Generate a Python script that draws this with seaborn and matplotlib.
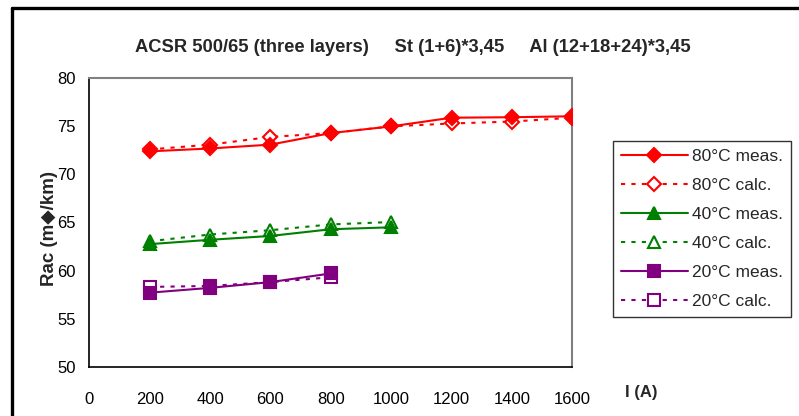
import matplotlib
matplotlib.use("Agg")
import matplotlib.pyplot as plt
from matplotlib.lines import Line2D
import seaborn as sns
import pandas as pd

# Current (A)
current_80 = [200, 400, 600, 800, 1000, 1200, 1400, 1600]
current_40 = [200, 400, 600, 800, 1000]
current_20 = [200, 400, 600, 800]

# AC resistance (mOhm/km)
rac_80_meas = [72.4, 72.7, 73.1, 74.3, 75.0, 75.9, 75.95, 76.05]
rac_80_calc = [72.6, 73.1, 73.9, 74.3, 75.0, 75.3, 75.5, 75.9]
rac_40_meas = [62.75, 63.2, 63.6, 64.3, 64.5]
rac_40_calc = [63.05, 63.75, 64.2, 64.8, 65.05]
rac_20_meas = [57.7, 58.2, 58.8, 59.7]
rac_20_calc = [58.3, 58.4, 58.8, 59.3]

labels = ["80°C meas.", "80°C calc.", "40°C meas.", "40°C calc.",
          "20°C meas.", "20°C calc."]

x_ticks = [0, 200, 400, 600, 800, 1000, 1200, 1400, 1600]
y_ticks = [50, 55, 60, 65, 70, 75, 80]

title = "ACSR 500/65 (three layers)     St (1+6)*3,45     Al (12+18+24)*3,45"

sns.set_theme(style="white")
plt.rcParams["font.family"] = ["Liberation Sans", "DejaVu Sans"]

fig = plt.figure(figsize=(7.99, 4.16), dpi=100)
ax = fig.add_axes([0.1118, 0.1185, 0.6045, 0.6933])

RED, GREEN, PURPLE = "#FF0000", "#008000", "#800080"
dots = (0, (2, 3))

series = [
    (current_80, rac_80_meas, RED, "D", "-", True, 6.8),
    (current_80, rac_80_calc, RED, "D", dots, False, 6.8),
    (current_40, rac_40_meas, GREEN, "^", "-", True, 9),
    (current_40, rac_40_calc, GREEN, "^", dots, False, 9),
    (current_20, rac_20_meas, PURPLE, "s", "-", True, 9),
    (current_20, rac_20_calc, PURPLE, "s", dots, False, 9),
]

for (xs, ys, col, mk, ls, filled, ms), lab in zip(series, labels):
    df = pd.DataFrame({"I": xs, "Rac": ys})
    sns.lineplot(data=df, x="I", y="Rac", ax=ax, color=col, linestyle=ls,
                 linewidth=1.5, marker=mk, markersize=ms,
                 markerfacecolor=col if filled else "white",
                 markeredgecolor=col, markeredgewidth=1.5,
                 label=lab, zorder=4 if filled else 3)

ax.set_xlim(0, 1600)
ax.set_ylim(50, 80)
ax.set_xticks(x_ticks)
ax.set_yticks(y_ticks)
ax.set_xlabel("")
ax.set_ylabel("")
ax.tick_params(axis="both", which="major", direction="inout", length=8,
               width=1, color="black", labelsize=12, labelcolor="black")
ax.tick_params(axis="x", pad=14)
ax.tick_params(axis="y", pad=6)
ax.grid(False)

for side in ("left", "bottom"):
    ax.spines[side].set_color("black")
    ax.spines[side].set_linewidth(1.2)
for side in ("top", "right"):
    ax.spines[side].set_color("#808080")
    ax.spines[side].set_linewidth(1.5)

leg = ax.legend(loc="upper left", bbox_to_anchor=(612.7 / 799, 1 - 140.7 / 416),
                bbox_transform=fig.transFigure, borderaxespad=0, fontsize=12.5,
                frameon=True, fancybox=False, shadow=False, edgecolor="black",
                handlelength=3.9, handletextpad=0.2, labelspacing=0.8,
                borderpad=0.45)
leg.get_frame().set_linewidth(1.0)

fig.text(412.5 / 799, 1 - 47 / 416, title, ha="center", va="center",
         fontsize=13.2, fontweight="bold")
fig.text(50 / 799, 1 - 228 / 416, "Rac (m◆/km)", rotation=90, ha="center",
         va="center", fontsize=13.5, fontweight="bold")
fig.text(641 / 799, 1 - 392 / 416, "I (A)", ha="center", va="center",
         fontsize=12, fontweight="bold")

# outer frame (top and left edges)
fig.add_artist(Line2D([12 / 799, 1.0], [1 - 8 / 416, 1 - 8 / 416],
                      transform=fig.transFigure, color="black", linewidth=2.4))
fig.add_artist(Line2D([12 / 799, 12 / 799], [1 - 8 / 416, 0.0],
                      transform=fig.transFigure, color="black", linewidth=2.4))

fig.savefig("out.png", dpi=100)
